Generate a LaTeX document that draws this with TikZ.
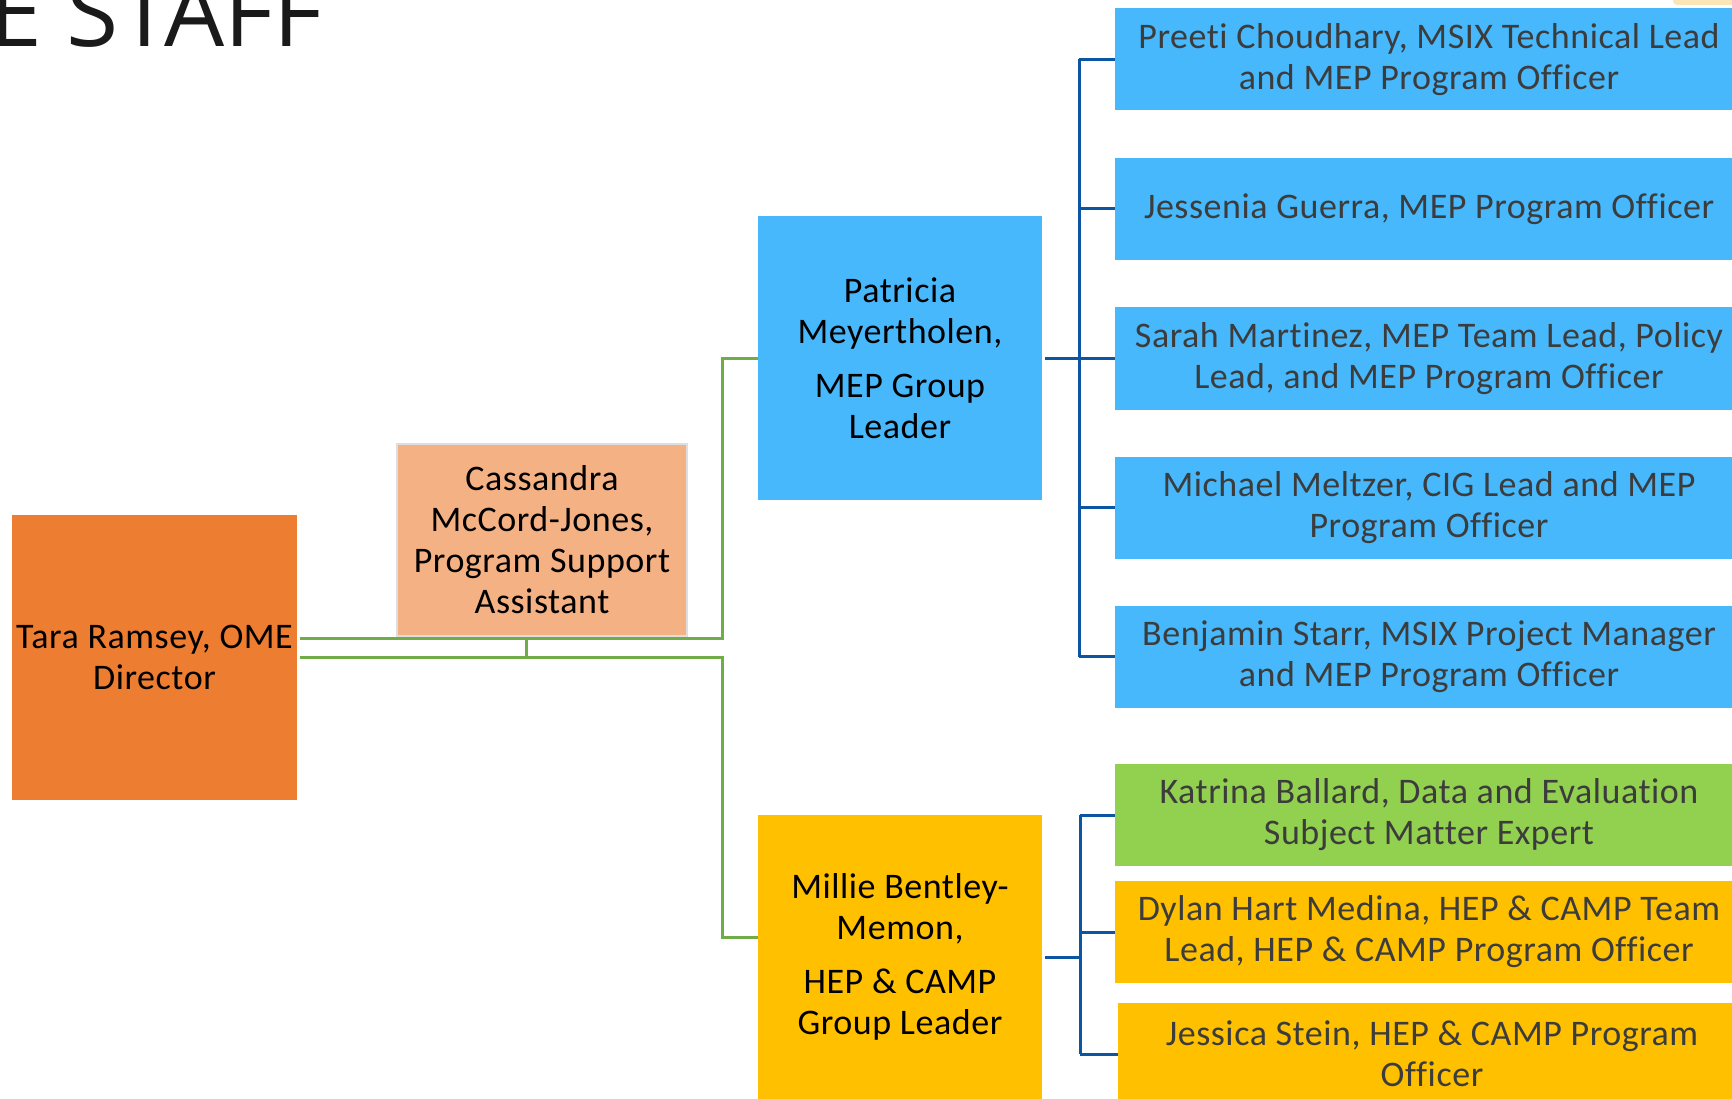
\documentclass[tikz,border=0pt]{standalone}
\usepackage{fontspec}
\setmainfont{Carlito}[LetterSpace=1.5,Ligatures=NoCommon]
\newfontfamily\titlefont{Open Sans}
\definecolor{torange}{HTML}{ED7D31}
\definecolor{tpeach}{HTML}{F4B183}
\definecolor{tblue}{HTML}{47B8FC}
\definecolor{tyellow}{HTML}{FFC000}
\definecolor{tgreen}{HTML}{92D050}
\definecolor{lgreen}{HTML}{70AD47}
\definecolor{lblue}{HTML}{0B55A3}
\definecolor{tgray}{HTML}{3C3C3C}
\definecolor{tcream}{HTML}{FCE6B8}
\begin{document}
\begin{tikzpicture}[x=1pt,y=-1pt,
  box/.style={inner sep=0pt, align=center, font=\fontsize{36}{41}\selectfont},
  lbox/.style={box, minimum width=285pt, minimum height=285pt, text=black},
  rbox/.style={box, minimum width=628pt, minimum height=102pt, text=tgray, fill=tblue},
  gline/.style={draw=lgreen, line width=3pt},
  bline/.style={draw=lblue, line width=3pt}]
\useasboundingbox (0,0) rectangle (1732,1099);
\clip (0,0) rectangle (1732,1099);
\fill[tcream, rounded corners=4pt] (1673,-20) rectangle (1745,5);
\node[anchor=base east, inner sep=0pt, text={rgb,255:red,26;green,26;blue,26}, font=\titlefont\fontsize{95}{100}\selectfont] (title) at (323,47) {E STAFF};

\node[lbox, fill=torange] (tara) at (154.5,657.5) {Tara Ramsey, OME\\Director};
\node[box, fill=tpeach, draw={rgb,255:red,222;green,222;blue,222}, line width=2pt, minimum width=290pt, minimum height=192pt] (cass) at (542,540) {Cassandra\\McCord-Jones,\\Program Support\\Assistant};
\node[lbox, fill=tblue, minimum width=284pt, minimum height=284pt] (pat) at (900,358) {Patricia\\Meyertholen,\\[13pt]MEP Group\\Leader};
\node[lbox, fill=tyellow, minimum width=284pt, minimum height=284pt] (mil) at (900,957) {Millie Bentley-\\Memon,\\[13pt]HEP \& CAMP\\Group Leader};

\node[rbox] (preeti) at (1429,59.5) {Preeti Choudhary, MSIX Technical Lead\\and MEP Program Officer};
\node[rbox] (jess) at (1429,209) {Jessenia Guerra, MEP Program Officer};
\node[rbox] (sarah) at (1429,358.5) {Sarah Martinez, MEP Team Lead, Policy\\Lead, and MEP Program Officer};
\node[rbox] (mich) at (1429,507.5) {Michael Meltzer, CIG Lead and MEP\\Program Officer};
\node[rbox] (benj) at (1429,656.5) {Benjamin Starr, MSIX Project Manager\\and MEP Program Officer};
\node[rbox, fill=tgreen] (kat) at (1429,815) {Katrina Ballard, Data and Evaluation\\Subject Matter Expert};
\node[rbox, fill=tyellow] (dyl) at (1429,932) {Dylan Hart Medina, HEP \& CAMP Team\\Lead, HEP \& CAMP Program Officer};
\node[rbox, fill=tyellow] (jst) at (1432,1054) {Jessica Stein, HEP \& CAMP Program\\Officer};

% green connectors
\coordinate (g1) at (722,638);
\coordinate (g2) at (722,657);
\coordinate (gc) at (526,657);
\draw[gline] (tara.east |- g1) ++(3,0) -- (g1) -- (g1 |- pat.west) -- (pat.west);
\draw[gline] (tara.east |- g2) ++(3,0) -- (g2) -- (722,937) -- (mil.west |- 0,937);
\draw[gline] (cass.south -| gc) -- (gc);

% blue connectors upper
\coordinate (bu) at (1079,358);
\draw[bline] (pat.east) ++(3,0) -- (bu);
\draw[bline] (bu |- preeti.west) -- (bu |- benj.west);
\foreach \n in {preeti,jess,sarah,mich,benj}
  \draw[bline] (bu |- \n.west) -- (\n.west);
% blue connectors lower
\coordinate (bl) at (1080,957);
\draw[bline] (mil.east) ++(3,0) -- (bl);
\draw[bline] (bl |- kat.west) -- (bl |- jst.west);
\foreach \n in {kat,dyl,jst}
  \draw[bline] (bl |- \n.west) -- (\n.west);
\end{tikzpicture}
\end{document}
